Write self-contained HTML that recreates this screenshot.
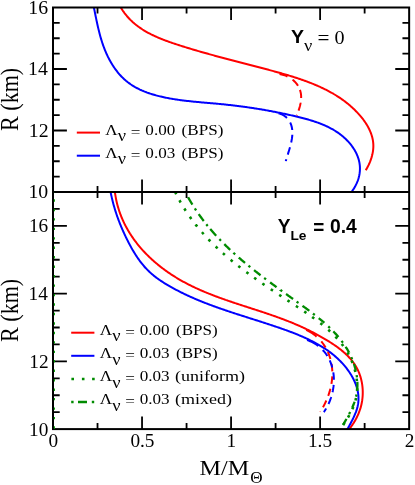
<!DOCTYPE html>
<html><head><meta charset="utf-8"><title>M-R relation</title>
<style>
html,body{margin:0;padding:0;background:#fff;}
body{width:415px;height:485px;overflow:hidden;font-family:"Liberation Serif",serif;}
svg{display:block;will-change:transform;}
text{font-family:"Liberation Serif",serif;fill:#000;}
.sb{font-family:"Liberation Sans",sans-serif;font-weight:bold;}
</style></head><body>
<svg width="415" height="485" viewBox="0 0 415 485">
<rect x="0" y="0" width="415" height="485" fill="#ffffff"/>
<defs><clipPath id="ct"><rect x="53.00" y="7.50" width="356.15" height="184.50"/></clipPath><clipPath id="cb"><rect x="53.00" y="192.00" width="356.15" height="237.10"/></clipPath></defs>
<g clip-path="url(#ct)">
<path d="M119.81 5.72 L120.33 6.65 L120.86 7.57 L121.41 8.48 L121.96 9.37 L122.53 10.25 L123.11 11.11 L123.71 11.95 L124.31 12.79 L124.92 13.60 L125.55 14.41 L126.19 15.20 L126.83 15.98 L127.49 16.74 L128.16 17.49 L128.84 18.23 L129.53 18.95 L130.22 19.67 L130.93 20.37 L131.65 21.05 L132.37 21.73 L133.11 22.39 L133.85 23.05 L134.60 23.69 L135.36 24.32 L136.13 24.93 L136.91 25.54 L137.69 26.14 L138.49 26.72 L139.29 27.30 L140.10 27.87 L140.91 28.42 L141.73 28.97 L142.56 29.51 L143.40 30.03 L144.24 30.55 L145.09 31.06 L145.94 31.56 L146.80 32.05 L147.67 32.53 L148.54 33.01 L149.42 33.48 L150.30 33.93 L151.19 34.39 L152.09 34.83 L152.98 35.27 L153.89 35.70 L154.79 36.12 L155.70 36.53 L156.62 36.94 L157.54 37.35 L158.46 37.74 L159.39 38.13 L160.32 38.52 L161.25 38.90 L162.19 39.27 L163.13 39.64 L164.07 40.00 L165.01 40.36 L165.96 40.71 L166.91 41.06 L167.86 41.41 L168.81 41.75 L169.76 42.09 L170.72 42.42 L171.67 42.75 L172.63 43.08 L173.59 43.40 L174.55 43.72 L175.51 44.04 L176.47 44.36 L177.43 44.67 L178.39 44.98 L179.35 45.29 L180.31 45.60 L181.27 45.90 L182.23 46.20 L183.19 46.51 L184.14 46.81 L185.10 47.10 L186.06 47.40 L187.02 47.69 L187.97 47.99 L188.93 48.28 L189.89 48.57 L190.84 48.86 L191.80 49.15 L192.76 49.43 L193.71 49.72 L194.67 50.00 L195.62 50.28 L196.58 50.56 L197.53 50.84 L198.49 51.12 L199.44 51.40 L200.40 51.67 L201.35 51.94 L202.31 52.22 L203.26 52.49 L204.22 52.76 L205.17 53.03 L206.13 53.30 L207.08 53.57 L208.03 53.83 L208.99 54.10 L209.94 54.36 L210.90 54.63 L211.85 54.89 L212.81 55.15 L213.76 55.41 L214.71 55.67 L215.67 55.93 L216.62 56.19 L217.58 56.45 L218.53 56.71 L219.49 56.96 L220.44 57.22 L221.40 57.48 L222.35 57.73 L223.31 57.98 L224.26 58.24 L225.22 58.49 L226.18 58.75 L227.13 59.00 L228.09 59.25 L229.04 59.50 L230.00 59.75 L230.96 60.00 L231.92 60.25 L232.87 60.51 L233.83 60.76 L234.79 61.01 L235.75 61.26 L236.71 61.50 L237.67 61.75 L238.63 62.00 L239.59 62.25 L240.55 62.50 L241.51 62.75 L242.47 63.00 L243.43 63.25 L244.39 63.50 L245.35 63.75 L246.32 64.00 L247.28 64.25 L248.24 64.50 L249.21 64.75 L250.17 65.00 L251.14 65.25 L252.11 65.50 L253.07 65.75 L254.04 66.00 L255.01 66.26 L255.97 66.51 L256.94 66.76 L257.91 67.02 L258.88 67.27 L259.85 67.52 L260.82 67.78 L261.79 68.03 L262.77 68.29 L263.74 68.55 L264.71 68.80 L265.69 69.06 L266.66 69.32 L267.64 69.58 L268.61 69.84 L269.59 70.10 L270.57 70.36 L271.55 70.63 L272.53 70.89 L273.50 71.16 L274.48 71.42 L275.46 71.69 L276.44 71.96 L277.42 72.23 L278.40 72.50 L279.38 72.78 L280.36 73.05 L281.34 73.33 L282.32 73.61 L283.30 73.89 L284.28 74.17 L285.26 74.45 L286.24 74.74 L287.22 75.03 L288.19 75.32 L289.17 75.61 L290.15 75.91 L291.12 76.21 L292.09 76.51 L293.06 76.81 L294.04 77.12 L295.01 77.43 L295.97 77.74 L296.94 78.05 L297.91 78.37 L298.87 78.69 L299.84 79.02 L300.80 79.35 L301.76 79.68 L302.71 80.01 L303.67 80.35 L304.62 80.69 L305.58 81.04 L306.53 81.39 L307.47 81.74 L308.42 82.10 L309.36 82.46 L310.30 82.82 L311.24 83.19 L312.18 83.56 L313.11 83.94 L314.04 84.32 L314.97 84.71 L315.89 85.10 L316.82 85.50 L317.73 85.90 L318.65 86.30 L319.56 86.71 L320.47 87.13 L321.38 87.55 L322.28 87.97 L323.18 88.40 L324.08 88.84 L324.97 89.28 L325.86 89.72 L326.75 90.17 L327.63 90.63 L328.51 91.09 L329.38 91.56 L330.25 92.04 L331.12 92.52 L331.98 93.00 L332.83 93.49 L333.69 93.99 L334.54 94.50 L335.38 95.01 L336.22 95.52 L337.06 96.05 L337.89 96.57 L338.71 97.11 L339.53 97.65 L340.35 98.20 L341.16 98.76 L341.97 99.32 L342.77 99.89 L343.56 100.47 L344.35 101.05 L345.14 101.64 L345.92 102.24 L346.69 102.85 L347.46 103.46 L348.23 104.08 L348.98 104.71 L349.74 105.35 L350.48 105.99 L351.22 106.64 L351.96 107.30 L352.68 107.97 L353.41 108.64 L354.12 109.33 L354.83 110.02 L355.53 110.72 L356.23 111.43 L356.92 112.14 L357.60 112.87 L358.28 113.60 L358.95 114.34 L359.61 115.09 L360.27 115.85 L360.92 116.62 L361.55 117.40 L362.18 118.18 L362.80 118.97 L363.40 119.77 L364.00 120.58 L364.58 121.40 L365.15 122.22 L365.70 123.05 L366.24 123.89 L366.77 124.74 L367.28 125.59 L367.78 126.45 L368.25 127.32 L368.71 128.20 L369.16 129.08 L369.58 129.97 L369.99 130.86 L370.37 131.77 L370.74 132.68 L371.08 133.59 L371.40 134.51 L371.70 135.44 L371.98 136.38 L372.23 137.32 L372.46 138.26 L372.67 139.22 L372.85 140.17 L373.00 141.14 L373.13 142.11 L373.23 143.08 L373.30 144.06 L373.34 145.05 L373.35 146.04 L373.34 147.04 L373.29 148.04 L373.21 149.04 L373.11 150.05 L372.98 151.06 L372.82 152.08 L372.63 153.09 L372.42 154.10 L372.19 155.11 L371.93 156.12 L371.64 157.12 L371.34 158.13 L371.01 159.12 L370.66 160.11 L370.29 161.10 L369.91 162.07 L369.50 163.04 L369.08 164.00 L368.64 164.95 L368.18 165.88 L367.70 166.81 L367.22 167.72 L366.72 168.62 L366.20 169.50 L365.75 170.24" fill="none" stroke="#ff0000" stroke-width="2.00" stroke-linecap="butt" stroke-linejoin="round"/>
<path d="M93.59 6.10 L93.79 7.05 L93.99 8.01 L94.18 8.96 L94.38 9.92 L94.57 10.88 L94.77 11.84 L94.96 12.81 L95.16 13.78 L95.35 14.74 L95.55 15.71 L95.75 16.68 L95.95 17.66 L96.15 18.63 L96.35 19.60 L96.55 20.58 L96.76 21.55 L96.97 22.53 L97.18 23.50 L97.40 24.48 L97.62 25.46 L97.84 26.43 L98.06 27.41 L98.29 28.39 L98.52 29.36 L98.76 30.34 L99.00 31.32 L99.25 32.29 L99.50 33.26 L99.76 34.24 L100.02 35.21 L100.29 36.18 L100.56 37.15 L100.84 38.12 L101.13 39.09 L101.42 40.05 L101.72 41.01 L102.03 41.98 L102.34 42.94 L102.66 43.89 L102.99 44.85 L103.33 45.80 L103.67 46.75 L104.02 47.70 L104.39 48.64 L104.76 49.59 L105.14 50.53 L105.52 51.46 L105.92 52.39 L106.33 53.32 L106.75 54.25 L107.17 55.17 L107.61 56.09 L108.05 57.00 L108.51 57.90 L108.97 58.80 L109.44 59.70 L109.93 60.59 L110.42 61.47 L110.92 62.35 L111.43 63.22 L111.95 64.08 L112.49 64.94 L113.03 65.78 L113.58 66.62 L114.14 67.46 L114.71 68.28 L115.29 69.09 L115.88 69.90 L116.48 70.70 L117.08 71.48 L117.70 72.26 L118.33 73.03 L118.97 73.78 L119.62 74.53 L120.28 75.26 L120.95 75.98 L121.63 76.70 L122.32 77.40 L123.02 78.08 L123.73 78.76 L124.45 79.42 L125.18 80.07 L125.92 80.71 L126.67 81.33 L127.43 81.94 L128.21 82.53 L128.99 83.11 L129.78 83.68 L130.58 84.24 L131.39 84.78 L132.20 85.32 L133.03 85.83 L133.87 86.34 L134.71 86.84 L135.56 87.32 L136.42 87.79 L137.29 88.25 L138.16 88.70 L139.05 89.14 L139.93 89.57 L140.83 89.98 L141.73 90.39 L142.64 90.78 L143.56 91.17 L144.48 91.55 L145.40 91.91 L146.34 92.27 L147.27 92.62 L148.22 92.95 L149.16 93.28 L150.12 93.60 L151.07 93.91 L152.03 94.22 L153.00 94.51 L153.97 94.80 L154.94 95.08 L155.92 95.35 L156.89 95.61 L157.88 95.87 L158.86 96.12 L159.85 96.36 L160.84 96.59 L161.83 96.82 L162.82 97.04 L163.82 97.26 L164.82 97.47 L165.81 97.67 L166.81 97.87 L167.81 98.07 L168.82 98.25 L169.82 98.43 L170.82 98.61 L171.82 98.78 L172.82 98.95 L173.82 99.12 L174.82 99.27 L175.82 99.43 L176.82 99.58 L177.82 99.73 L178.83 99.87 L179.83 100.01 L180.83 100.14 L181.82 100.28 L182.82 100.40 L183.82 100.53 L184.82 100.65 L185.82 100.77 L186.82 100.89 L187.82 101.00 L188.82 101.11 L189.81 101.22 L190.81 101.33 L191.81 101.43 L192.80 101.53 L193.80 101.63 L194.80 101.73 L195.79 101.83 L196.79 101.92 L197.79 102.02 L198.78 102.11 L199.78 102.20 L200.77 102.29 L201.76 102.38 L202.76 102.47 L203.75 102.56 L204.75 102.64 L205.74 102.73 L206.73 102.82 L207.72 102.90 L208.72 102.99 L209.71 103.08 L210.70 103.16 L211.69 103.25 L212.68 103.34 L213.67 103.42 L214.66 103.51 L215.65 103.60 L216.64 103.69 L217.63 103.78 L218.62 103.88 L219.61 103.97 L220.59 104.07 L221.58 104.16 L222.57 104.26 L223.55 104.36 L224.54 104.46 L225.53 104.57 L226.51 104.67 L227.50 104.78 L228.48 104.89 L229.47 104.99 L230.45 105.10 L231.44 105.22 L232.42 105.33 L233.40 105.45 L234.39 105.56 L235.37 105.68 L236.35 105.80 L237.33 105.92 L238.32 106.05 L239.30 106.17 L240.28 106.30 L241.26 106.43 L242.25 106.56 L243.23 106.69 L244.21 106.82 L245.19 106.96 L246.17 107.10 L247.15 107.23 L248.13 107.37 L249.12 107.52 L250.10 107.66 L251.08 107.80 L252.06 107.95 L253.04 108.10 L254.02 108.25 L255.00 108.40 L255.98 108.56 L256.96 108.71 L257.94 108.87 L258.93 109.03 L259.91 109.19 L260.89 109.36 L261.87 109.52 L262.85 109.69 L263.83 109.86 L264.81 110.03 L265.80 110.20 L266.78 110.37 L267.76 110.55 L268.74 110.73 L269.72 110.91 L270.71 111.09 L271.69 111.27 L272.67 111.46 L273.65 111.65 L274.64 111.84 L275.62 112.03 L276.60 112.22 L277.59 112.42 L278.57 112.61 L279.56 112.81 L280.54 113.01 L281.53 113.22 L282.51 113.42 L283.50 113.63 L284.48 113.84 L285.47 114.05 L286.46 114.26 L287.44 114.48 L288.43 114.70 L289.42 114.92 L290.41 115.14 L291.40 115.36 L292.38 115.59 L293.37 115.82 L294.36 116.05 L295.35 116.28 L296.34 116.51 L297.34 116.75 L298.33 116.99 L299.32 117.23 L300.31 117.48 L301.30 117.73 L302.29 117.98 L303.27 118.23 L304.26 118.49 L305.25 118.76 L306.23 119.03 L307.21 119.30 L308.19 119.58 L309.17 119.86 L310.15 120.15 L311.12 120.44 L312.09 120.74 L313.06 121.05 L314.03 121.36 L314.99 121.68 L315.95 122.00 L316.90 122.34 L317.86 122.68 L318.80 123.02 L319.75 123.38 L320.69 123.74 L321.62 124.11 L322.55 124.48 L323.48 124.87 L324.40 125.27 L325.32 125.67 L326.23 126.08 L327.13 126.50 L328.03 126.93 L328.92 127.38 L329.81 127.83 L330.69 128.29 L331.56 128.76 L332.43 129.24 L333.29 129.73 L334.15 130.24 L334.99 130.75 L335.83 131.28 L336.66 131.82 L337.49 132.37 L338.30 132.93 L339.11 133.51 L339.91 134.09 L340.70 134.69 L341.48 135.31 L342.25 135.93 L343.02 136.57 L343.77 137.23 L344.51 137.89 L345.25 138.57 L345.97 139.26 L346.68 139.96 L347.38 140.68 L348.06 141.41 L348.73 142.14 L349.39 142.89 L350.03 143.65 L350.66 144.42 L351.27 145.20 L351.87 145.99 L352.45 146.80 L353.01 147.61 L353.55 148.43 L354.08 149.26 L354.59 150.09 L355.07 150.94 L355.54 151.80 L355.99 152.66 L356.42 153.53 L356.82 154.41 L357.20 155.30 L357.56 156.19 L357.90 157.10 L358.21 158.00 L358.50 158.92 L358.77 159.84 L359.01 160.77 L359.22 161.70 L359.41 162.64 L359.57 163.58 L359.70 164.53 L359.81 165.49 L359.88 166.44 L359.93 167.41 L359.95 168.37 L359.94 169.34 L359.90 170.32 L359.84 171.29 L359.74 172.27 L359.62 173.24 L359.46 174.22 L359.28 175.20 L359.07 176.18 L358.84 177.16 L358.57 178.13 L358.28 179.10 L357.96 180.08 L357.61 181.04 L357.23 182.01 L356.83 182.97 L356.40 183.92 L355.94 184.87 L355.46 185.82 L354.94 186.75 L354.40 187.68 L353.84 188.61 L353.24 189.52 L352.62 190.43 L351.98 191.33 L351.30 192.22 L350.60 193.10 L349.88 193.96 L349.77 194.08" fill="none" stroke="#0000ff" stroke-width="2.00" stroke-linecap="butt" stroke-linejoin="round"/>
<path d="M279.54 74.09 L280.59 74.26 L281.63 74.46 L282.65 74.71 L283.65 74.99 L284.64 75.31 L285.61 75.66 L286.56 76.05 L287.49 76.47 L288.40 76.93 L289.29 77.42 L290.15 77.93 L290.99 78.49 L291.81 79.07 L292.59 79.67 L293.35 80.31 L294.08 80.98 L294.78 81.67 L295.45 82.38 L296.09 83.12 L296.70 83.88 L297.27 84.67 L297.81 85.48 L298.31 86.31 L298.77 87.15 L299.20 88.02 L299.58 88.91 L299.93 89.81 L300.23 90.73 L300.49 91.67 L300.71 92.61 L300.89 93.58 L301.02 94.55 L301.10 95.54 L301.14 96.54 L301.15 97.55 L301.11 98.56 L301.04 99.57 L300.94 100.59 L300.80 101.62 L300.64 102.64 L300.45 103.66 L300.23 104.67 L300.00 105.68 L299.74 106.69 L299.46 107.68 L299.17 108.67 L298.87 109.64 L298.55 110.60 L298.22 111.54 L297.89 112.47 L297.55 113.38 L297.21 114.27 L296.87 115.13 L296.80 115.32" fill="none" stroke="#ff0000" stroke-width="2.00" stroke-linecap="butt" stroke-linejoin="round" stroke-dasharray="8.33 6.01 8.30 4.50 8.30 4.50 8.30 4.50 8.30 4.50 8.30 4.50 8.30 4.50 8.30 4.50 8.30 4.50 8.30 4.50 8.30 4.50 8.30 4.50 8.30 4.50"/>
<path d="M278.52 113.22 L279.68 113.58 L280.77 113.98 L281.81 114.42 L282.80 114.90 L283.72 115.43 L284.60 115.99 L285.42 116.59 L286.19 117.23 L286.91 117.90 L287.58 118.60 L288.20 119.34 L288.77 120.10 L289.29 120.89 L289.77 121.70 L290.21 122.54 L290.60 123.40 L290.95 124.28 L291.26 125.18 L291.53 126.10 L291.76 127.03 L291.95 127.98 L292.10 128.94 L292.22 129.91 L292.30 130.89 L292.35 131.87 L292.37 132.87 L292.35 133.86 L292.31 134.86 L292.24 135.87 L292.14 136.88 L292.01 137.89 L291.87 138.90 L291.70 139.92 L291.51 140.93 L291.30 141.95 L291.08 142.96 L290.84 143.97 L290.59 144.98 L290.33 145.98 L290.05 146.98 L289.77 147.98 L289.48 148.97 L289.19 149.96 L288.89 150.94 L288.59 151.91 L288.29 152.87 L287.99 153.83 L287.69 154.77 L287.39 155.71 L287.11 156.64 L286.83 157.55 L286.56 158.45 L286.30 159.34 L286.05 160.21 L285.81 161.08 L285.80 161.15" fill="none" stroke="#0000ff" stroke-width="2.00" stroke-linecap="butt" stroke-linejoin="round" stroke-dasharray="9.71 5.70 7.80 4.80 7.80 4.80 7.80 4.80 7.80 4.80 7.80 4.80 7.80 4.80 7.80 4.80 7.80 4.80 7.80 4.80 7.80 4.80 7.80 4.80 7.80 4.80"/>
</g>
<g clip-path="url(#cb)">
<path d="M114.68 190.23 L114.80 191.27 L114.93 192.31 L115.07 193.34 L115.22 194.37 L115.38 195.40 L115.56 196.42 L115.74 197.44 L115.93 198.45 L116.13 199.46 L116.34 200.46 L116.56 201.46 L116.80 202.46 L117.04 203.45 L117.29 204.43 L117.55 205.41 L117.82 206.39 L118.10 207.36 L118.39 208.33 L118.68 209.29 L118.99 210.25 L119.31 211.20 L119.63 212.15 L119.97 213.10 L120.31 214.04 L120.66 214.97 L121.02 215.91 L121.39 216.83 L121.77 217.75 L122.16 218.67 L122.56 219.58 L122.96 220.49 L123.37 221.40 L123.80 222.29 L124.22 223.19 L124.66 224.08 L125.11 224.96 L125.56 225.84 L126.02 226.72 L126.49 227.59 L126.97 228.46 L127.46 229.32 L127.95 230.18 L128.45 231.03 L128.96 231.88 L129.47 232.72 L129.99 233.56 L130.53 234.39 L131.06 235.22 L131.61 236.05 L132.16 236.87 L132.72 237.68 L133.28 238.49 L133.86 239.30 L134.44 240.10 L135.02 240.90 L135.62 241.69 L136.22 242.47 L136.82 243.26 L137.43 244.03 L138.05 244.81 L138.68 245.57 L139.31 246.34 L139.95 247.09 L140.59 247.85 L141.24 248.60 L141.90 249.34 L142.56 250.08 L143.23 250.81 L143.90 251.54 L144.58 252.27 L145.27 252.99 L145.96 253.70 L146.66 254.41 L147.36 255.12 L148.06 255.82 L148.78 256.51 L149.49 257.20 L150.22 257.89 L150.94 258.57 L151.68 259.25 L152.41 259.92 L153.16 260.59 L153.90 261.25 L154.66 261.90 L155.41 262.56 L156.17 263.20 L156.94 263.84 L157.71 264.48 L158.48 265.11 L159.26 265.74 L160.05 266.36 L160.83 266.98 L161.63 267.59 L162.42 268.20 L163.22 268.80 L164.02 269.40 L164.83 269.99 L165.64 270.58 L166.46 271.16 L167.27 271.74 L168.09 272.31 L168.92 272.88 L169.75 273.44 L170.58 274.00 L171.41 274.55 L172.25 275.10 L173.09 275.64 L173.94 276.18 L174.78 276.71 L175.63 277.24 L176.49 277.76 L177.34 278.28 L178.20 278.79 L179.06 279.30 L179.92 279.80 L180.79 280.30 L181.66 280.79 L182.53 281.28 L183.40 281.76 L184.28 282.24 L185.16 282.71 L186.03 283.18 L186.92 283.64 L187.80 284.10 L188.69 284.55 L189.58 285.00 L190.47 285.45 L191.36 285.89 L192.25 286.33 L193.15 286.76 L194.05 287.19 L194.95 287.62 L195.85 288.04 L196.76 288.45 L197.66 288.87 L198.57 289.28 L199.48 289.68 L200.39 290.09 L201.31 290.49 L202.22 290.88 L203.14 291.27 L204.05 291.66 L204.97 292.05 L205.90 292.43 L206.82 292.81 L207.74 293.19 L208.67 293.56 L209.59 293.93 L210.52 294.30 L211.45 294.66 L212.38 295.02 L213.31 295.38 L214.25 295.74 L215.18 296.09 L216.12 296.45 L217.06 296.80 L217.99 297.14 L218.93 297.49 L219.87 297.83 L220.81 298.17 L221.76 298.51 L222.70 298.85 L223.64 299.18 L224.59 299.51 L225.53 299.85 L226.48 300.17 L227.43 300.50 L228.37 300.83 L229.32 301.15 L230.27 301.48 L231.22 301.80 L232.17 302.12 L233.12 302.44 L234.07 302.76 L235.03 303.08 L235.98 303.39 L236.93 303.71 L237.88 304.02 L238.84 304.33 L239.79 304.65 L240.75 304.96 L241.70 305.27 L242.66 305.58 L243.61 305.89 L244.57 306.20 L245.52 306.51 L246.48 306.82 L247.43 307.13 L248.39 307.44 L249.34 307.75 L250.30 308.06 L251.25 308.37 L252.21 308.68 L253.16 308.99 L254.12 309.30 L255.07 309.61 L256.03 309.92 L256.98 310.23 L257.94 310.54 L258.89 310.85 L259.84 311.16 L260.80 311.48 L261.75 311.79 L262.70 312.11 L263.65 312.42 L264.60 312.74 L265.55 313.06 L266.50 313.38 L267.45 313.70 L268.40 314.02 L269.35 314.34 L270.30 314.67 L271.24 314.99 L272.19 315.32 L273.13 315.65 L274.08 315.98 L275.02 316.31 L275.96 316.65 L276.90 316.98 L277.84 317.32 L278.78 317.66 L279.72 318.00 L280.66 318.35 L281.59 318.70 L282.53 319.04 L283.46 319.40 L284.39 319.75 L285.32 320.11 L286.25 320.47 L287.18 320.83 L288.11 321.19 L289.03 321.56 L289.96 321.93 L290.88 322.30 L291.80 322.68 L292.72 323.05 L293.64 323.44 L294.56 323.82 L295.47 324.21 L296.38 324.60 L297.30 324.99 L298.21 325.39 L299.12 325.79 L300.03 326.20 L300.93 326.60 L301.84 327.01 L302.74 327.43 L303.64 327.85 L304.55 328.27 L305.45 328.69 L306.34 329.12 L307.24 329.55 L308.14 329.99 L309.03 330.43 L309.93 330.87 L310.82 331.32 L311.71 331.77 L312.60 332.23 L313.49 332.69 L314.37 333.15 L315.26 333.62 L316.14 334.09 L317.02 334.57 L317.91 335.04 L318.79 335.53 L319.67 336.02 L320.54 336.51 L321.42 337.01 L322.30 337.51 L323.17 338.01 L324.04 338.52 L324.91 339.04 L325.78 339.56 L326.65 340.08 L327.52 340.61 L328.39 341.15 L329.25 341.68 L330.12 342.23 L330.97 342.78 L331.83 343.33 L332.68 343.89 L333.53 344.46 L334.38 345.03 L335.21 345.61 L336.05 346.19 L336.88 346.78 L337.70 347.38 L338.51 347.98 L339.32 348.59 L340.12 349.21 L340.91 349.84 L341.70 350.47 L342.48 351.11 L343.24 351.76 L344.00 352.42 L344.75 353.08 L345.48 353.75 L346.21 354.43 L346.92 355.12 L347.63 355.82 L348.32 356.53 L349.00 357.24 L349.66 357.97 L350.32 358.70 L350.96 359.44 L351.58 360.20 L352.19 360.96 L352.79 361.73 L353.37 362.52 L353.93 363.31 L354.48 364.12 L355.01 364.93 L355.52 365.76 L356.02 366.59 L356.50 367.44 L356.96 368.30 L357.41 369.17 L357.83 370.04 L358.24 370.93 L358.63 371.82 L359.01 372.73 L359.37 373.64 L359.70 374.56 L360.03 375.48 L360.33 376.42 L360.61 377.36 L360.88 378.30 L361.13 379.26 L361.36 380.21 L361.58 381.18 L361.78 382.14 L361.95 383.12 L362.12 384.09 L362.26 385.07 L362.38 386.06 L362.49 387.05 L362.58 388.04 L362.65 389.03 L362.70 390.02 L362.74 391.02 L362.75 392.02 L362.75 393.01 L362.73 394.01 L362.70 395.01 L362.64 396.01 L362.57 397.01 L362.47 398.01 L362.36 399.01 L362.23 400.00 L362.09 401.00 L361.92 401.99 L361.73 402.98 L361.53 403.96 L361.31 404.95 L361.07 405.93 L360.81 406.90 L360.54 407.87 L360.24 408.84 L359.93 409.80 L359.60 410.76 L359.25 411.71 L358.89 412.66 L358.51 413.60 L358.11 414.53 L357.70 415.46 L357.27 416.38 L356.82 417.30 L356.36 418.20 L355.89 419.10 L355.40 419.99 L354.89 420.88 L354.37 421.75 L353.84 422.62 L353.29 423.47 L352.74 424.32 L352.16 425.16 L351.58 425.99 L350.98 426.81 L350.37 427.62 L349.75 428.41 L349.11 429.20 L348.47 429.98 L348.24 430.25" fill="none" stroke="#ff0000" stroke-width="2.00" stroke-linecap="butt" stroke-linejoin="round"/>
<path d="M110.32 190.48 L110.50 191.47 L110.69 192.46 L110.89 193.45 L111.09 194.44 L111.30 195.42 L111.52 196.40 L111.74 197.39 L111.96 198.36 L112.19 199.34 L112.43 200.31 L112.67 201.28 L112.92 202.25 L113.18 203.22 L113.44 204.19 L113.70 205.15 L113.97 206.11 L114.25 207.07 L114.53 208.03 L114.81 208.98 L115.11 209.94 L115.40 210.89 L115.70 211.84 L116.01 212.79 L116.33 213.73 L116.64 214.68 L116.97 215.62 L117.29 216.56 L117.63 217.50 L117.97 218.43 L118.31 219.37 L118.66 220.30 L119.01 221.23 L119.37 222.16 L119.73 223.09 L120.10 224.02 L120.47 224.94 L120.85 225.86 L121.23 226.78 L121.62 227.70 L122.01 228.62 L122.41 229.54 L122.81 230.45 L123.21 231.36 L123.62 232.27 L124.04 233.18 L124.46 234.09 L124.88 235.00 L125.31 235.90 L125.74 236.81 L126.18 237.71 L126.62 238.61 L127.06 239.51 L127.51 240.40 L127.97 241.30 L128.43 242.19 L128.89 243.09 L129.36 243.98 L129.83 244.87 L130.30 245.75 L130.79 246.63 L131.27 247.52 L131.77 248.39 L132.26 249.27 L132.77 250.14 L133.28 251.01 L133.79 251.87 L134.32 252.73 L134.84 253.58 L135.38 254.43 L135.92 255.28 L136.47 256.12 L137.02 256.95 L137.58 257.78 L138.15 258.61 L138.73 259.42 L139.32 260.23 L139.91 261.04 L140.51 261.84 L141.11 262.63 L141.73 263.42 L142.36 264.19 L142.99 264.96 L143.63 265.73 L144.28 266.48 L144.94 267.23 L145.61 267.96 L146.29 268.69 L146.97 269.41 L147.67 270.13 L148.38 270.83 L149.09 271.52 L149.82 272.21 L150.56 272.88 L151.30 273.54 L152.06 274.20 L152.82 274.84 L153.59 275.48 L154.37 276.11 L155.16 276.73 L155.96 277.34 L156.76 277.94 L157.58 278.54 L158.39 279.13 L159.22 279.71 L160.05 280.28 L160.88 280.84 L161.73 281.40 L162.57 281.95 L163.42 282.50 L164.28 283.04 L165.14 283.57 L166.00 284.10 L166.87 284.62 L167.74 285.13 L168.61 285.64 L169.49 286.15 L170.36 286.65 L171.24 287.14 L172.12 287.63 L173.00 288.12 L173.89 288.60 L174.77 289.08 L175.65 289.55 L176.54 290.02 L177.43 290.48 L178.32 290.94 L179.21 291.40 L180.10 291.85 L180.99 292.30 L181.88 292.74 L182.78 293.18 L183.68 293.61 L184.57 294.05 L185.47 294.48 L186.37 294.90 L187.27 295.32 L188.17 295.74 L189.07 296.15 L189.98 296.56 L190.88 296.97 L191.79 297.37 L192.70 297.78 L193.60 298.17 L194.51 298.57 L195.42 298.96 L196.33 299.35 L197.25 299.73 L198.16 300.11 L199.07 300.49 L199.99 300.87 L200.90 301.24 L201.82 301.61 L202.74 301.98 L203.66 302.34 L204.58 302.71 L205.50 303.07 L206.42 303.42 L207.34 303.78 L208.27 304.13 L209.19 304.48 L210.11 304.83 L211.04 305.18 L211.97 305.52 L212.89 305.86 L213.82 306.20 L214.75 306.54 L215.68 306.88 L216.61 307.21 L217.54 307.54 L218.48 307.87 L219.41 308.20 L220.34 308.53 L221.28 308.85 L222.21 309.18 L223.15 309.50 L224.09 309.82 L225.02 310.14 L225.96 310.46 L226.90 310.77 L227.84 311.09 L228.78 311.40 L229.72 311.72 L230.66 312.03 L231.60 312.34 L232.55 312.65 L233.49 312.96 L234.43 313.27 L235.38 313.58 L236.32 313.88 L237.27 314.19 L238.21 314.49 L239.16 314.80 L240.11 315.10 L241.06 315.41 L242.00 315.71 L242.95 316.01 L243.90 316.32 L244.85 316.62 L245.80 316.92 L246.75 317.23 L247.70 317.53 L248.66 317.83 L249.61 318.13 L250.56 318.44 L251.51 318.74 L252.47 319.04 L253.42 319.34 L254.37 319.65 L255.33 319.95 L256.28 320.25 L257.24 320.56 L258.19 320.86 L259.15 321.17 L260.10 321.48 L261.06 321.78 L262.02 322.09 L262.97 322.40 L263.93 322.71 L264.89 323.02 L265.85 323.33 L266.81 323.64 L267.76 323.96 L268.72 324.27 L269.68 324.59 L270.64 324.90 L271.60 325.22 L272.56 325.54 L273.52 325.86 L274.48 326.18 L275.44 326.51 L276.40 326.83 L277.36 327.16 L278.32 327.49 L279.28 327.82 L280.24 328.15 L281.20 328.48 L282.16 328.82 L283.12 329.16 L284.08 329.50 L285.04 329.84 L286.00 330.18 L286.95 330.53 L287.91 330.88 L288.87 331.24 L289.82 331.59 L290.77 331.95 L291.73 332.31 L292.68 332.68 L293.62 333.04 L294.57 333.41 L295.52 333.79 L296.46 334.17 L297.40 334.55 L298.34 334.93 L299.28 335.32 L300.22 335.71 L301.15 336.11 L302.08 336.51 L303.01 336.92 L303.93 337.33 L304.85 337.74 L305.77 338.16 L306.69 338.58 L307.60 339.01 L308.51 339.44 L309.42 339.88 L310.32 340.32 L311.22 340.77 L312.11 341.22 L313.00 341.68 L313.89 342.14 L314.77 342.61 L315.65 343.08 L316.53 343.56 L317.40 344.04 L318.26 344.54 L319.12 345.03 L319.98 345.53 L320.83 346.04 L321.68 346.56 L322.52 347.08 L323.36 347.61 L324.19 348.14 L325.01 348.68 L325.83 349.23 L326.65 349.79 L327.46 350.35 L328.26 350.92 L329.05 351.49 L329.85 352.08 L330.63 352.67 L331.41 353.26 L332.18 353.87 L332.94 354.48 L333.70 355.10 L334.46 355.73 L335.20 356.37 L335.94 357.01 L336.67 357.66 L337.39 358.32 L338.11 358.99 L338.82 359.67 L339.52 360.35 L340.21 361.05 L340.90 361.75 L341.58 362.46 L342.25 363.18 L342.91 363.91 L343.56 364.65 L344.21 365.40 L344.85 366.16 L345.48 366.92 L346.10 367.70 L346.71 368.48 L347.31 369.28 L347.90 370.08 L348.48 370.90 L349.05 371.72 L349.61 372.55 L350.16 373.39 L350.70 374.23 L351.22 375.09 L351.73 375.95 L352.22 376.82 L352.70 377.69 L353.17 378.58 L353.62 379.47 L354.05 380.36 L354.47 381.26 L354.87 382.17 L355.25 383.09 L355.61 384.01 L355.96 384.93 L356.28 385.86 L356.59 386.80 L356.87 387.74 L357.13 388.68 L357.37 389.63 L357.59 390.58 L357.79 391.53 L357.96 392.49 L358.11 393.46 L358.24 394.42 L358.34 395.39 L358.42 396.36 L358.47 397.33 L358.49 398.31 L358.48 399.28 L358.45 400.26 L358.39 401.24 L358.30 402.22 L358.19 403.21 L358.04 404.19 L357.86 405.17 L357.66 406.16 L357.42 407.14 L357.16 408.12 L356.88 409.10 L356.57 410.08 L356.24 411.06 L355.89 412.04 L355.51 413.01 L355.12 413.98 L354.72 414.95 L354.30 415.91 L353.86 416.87 L353.42 417.82 L352.96 418.77 L352.49 419.71 L352.02 420.65 L351.54 421.58 L351.05 422.50 L350.56 423.42 L350.07 424.32 L349.58 425.22 L349.09 426.12 L348.60 427.00 L348.11 427.87 L347.63 428.74 L347.15 429.59 L346.69 430.43 L346.68 430.45" fill="none" stroke="#0000ff" stroke-width="2.00" stroke-linecap="butt" stroke-linejoin="round"/>
<path d="M175.39 192.55 L175.39 192.55 L175.86 193.50 L176.23 194.24M179.42 200.25 L179.80 200.94 L180.31 201.84 L180.70 202.51M184.31 208.53 L184.56 208.93 L185.11 209.79 L185.66 210.65 L185.71 210.72M189.84 216.82 L190.23 217.37 L190.82 218.19 L191.36 218.93M195.56 224.48 L195.65 224.60 L196.27 225.38 L196.90 226.16 L197.19 226.52M201.96 232.20 L202.01 232.26 L202.67 233.00 L203.33 233.75 L203.68 234.14M208.55 239.41 L208.70 239.56 L209.38 240.27 L210.07 240.98 L210.36 241.27M215.70 246.55 L216.39 247.21 L217.11 247.89 L217.59 248.34M222.88 253.17 L222.93 253.21 L223.67 253.87 L224.41 254.52 L224.83 254.88M230.67 259.84 L231.19 260.27 L231.95 260.89 L232.68 261.49M238.30 265.97 L238.92 266.45 L239.70 267.06 L240.36 267.56M246.36 272.09 L246.84 272.44 L247.64 273.04 L248.44 273.62 L248.45 273.63M254.14 277.74 L254.92 278.29 L255.73 278.87 L256.27 279.25M262.37 283.50 L263.13 284.02 L263.95 284.59 L264.51 284.97M270.78 289.23 L271.44 289.67 L272.28 290.23 L272.94 290.68M279.20 294.85 L279.84 295.27 L280.68 295.83 L281.37 296.29M287.46 300.32 L288.28 300.86 L289.13 301.42 L289.63 301.75M295.92 305.92 L296.76 306.48 L297.60 307.04 L298.09 307.36M304.24 311.50 L304.37 311.58 L305.21 312.16 L306.05 312.73 L306.38 312.96M312.13 316.99 L312.69 317.40 L313.51 317.99 L314.23 318.51M320.35 323.14 L320.75 323.45 L321.53 324.07 L322.31 324.70 L322.38 324.76M328.23 329.72 L328.37 329.84 L329.10 330.51 L329.83 331.17 L330.15 331.47M335.40 336.66 L335.42 336.68 L336.09 337.39 L336.75 338.10 L337.17 338.57M341.71 343.99 L341.75 344.05 L342.34 344.82 L342.92 345.59 L343.27 346.07M347.41 352.38 L347.71 352.89 L348.19 353.73 L348.67 354.59 L348.70 354.64M351.57 360.57 L351.67 360.79 L352.05 361.70 L352.42 362.63 L352.55 362.98M354.72 369.49 L354.94 370.29 L355.19 371.27 L355.37 372.00M356.61 378.56 L356.71 379.28 L356.83 380.29 L356.91 381.14M357.19 388.21 L357.18 388.40 L357.15 389.42 L357.10 390.42 L357.07 390.81M356.10 397.93 L356.01 398.38 L355.78 399.36 L355.53 400.33 L355.50 400.46M353.33 406.90 L353.30 406.97 L352.91 407.89 L352.51 408.81 L352.30 409.29M349.28 415.23 L348.85 415.99 L348.35 416.86 L347.98 417.48M344.60 422.84 L344.06 423.64 L343.51 424.47 L343.15 424.99" fill="none" stroke="#008b00" stroke-width="2.60"/>
<path d="M188.06 197.22 L188.08 197.26 L188.59 198.16 L189.11 199.06 L189.62 199.96 L190.15 200.85 L190.67 201.74 L191.20 202.62 L191.73 203.50 L192.27 204.37 L192.39 204.57M198.70 214.11 L199.00 214.53 L199.59 215.35 L200.17 216.17 L200.77 216.98 L201.36 217.79 L201.96 218.60 L202.56 219.40 L203.17 220.20 L203.77 220.99 L203.80 221.02M210.21 228.95 L210.68 229.50 L211.33 230.25 L211.98 231.00 L212.63 231.75 L213.28 232.49 L213.94 233.23 L214.60 233.97 L215.27 234.71 L215.93 235.44 L216.20 235.73M224.28 244.12 L224.85 244.68 L225.56 245.37 L226.26 246.06 L226.97 246.75 L227.69 247.43 L228.40 248.12 L229.12 248.80 L229.83 249.47 L230.24 249.85M238.75 257.53 L239.38 258.07 L240.13 258.72 L240.88 259.37 L241.63 260.01 L242.39 260.65 L243.15 261.29 L243.90 261.93 L244.66 262.56 L245.03 262.87M254.04 270.17 L254.70 270.69 L255.49 271.31 L256.27 271.92 L257.06 272.53 L257.85 273.14 L258.64 273.75 L259.43 274.36 L260.22 274.97 L260.57 275.24M270.12 282.41 L270.62 282.79 L271.43 283.39 L272.24 283.98 L273.05 284.58 L273.86 285.17 L274.67 285.76 L275.48 286.36 L276.30 286.95 L276.58 287.16M286.04 293.99 L286.11 294.04 L286.93 294.63 L287.75 295.22 L288.57 295.81 L289.40 296.40 L290.22 296.99 L291.04 297.58 L291.87 298.17 L292.69 298.76 L293.06 299.03M302.48 305.79 L302.59 305.88 L303.42 306.48 L304.24 307.07 L305.06 307.67 L305.88 308.27 L306.70 308.88 L307.52 309.48 L308.33 310.08 L309.15 310.69 L309.23 310.76M318.78 318.16 L319.52 318.77 L320.29 319.40 L321.06 320.05 L321.83 320.69 L322.59 321.34 L323.35 321.99 L324.11 322.64 L324.27 322.79M333.34 331.37 L333.46 331.49 L334.14 332.21 L334.81 332.92 L335.47 333.64 L336.13 334.37 L336.78 335.10 L337.43 335.83 L338.06 336.57 L338.44 337.01M345.66 346.76 L346.14 347.52 L346.65 348.35 L347.16 349.18 L347.65 350.03 L348.13 350.87 L348.60 351.73 L349.07 352.59 L349.07 352.60M353.93 363.96 L354.09 364.45 L354.39 365.41 L354.68 366.37 L354.96 367.34 L355.22 368.31 L355.47 369.29 L355.71 370.27 L355.80 370.67M357.35 381.91 L357.37 382.23 L357.40 383.23 L357.41 384.24 L357.41 385.24 L357.39 386.24 L357.35 387.24 L357.30 388.24 L357.22 389.24 L357.13 390.24 L357.12 390.29M354.55 401.75 L354.49 401.93 L354.16 402.88 L353.81 403.82 L353.44 404.76 L353.06 405.70 L352.67 406.63 L352.27 407.56 L352.13 407.86M346.49 418.86 L346.28 419.25 L345.78 420.12 L345.29 420.98 L344.79 421.84 L344.30 422.70 L343.80 423.55 L343.31 424.40 L343.00 424.94M184.63 190.80 L184.63 190.80 L185.11 191.73 L185.60 192.67 L185.67 192.80M194.86 208.44 L195.01 208.68 L195.57 209.52 L196.13 210.36M206.32 224.23 L206.87 224.91 L207.49 225.69 L207.77 226.02M219.37 239.11 L219.99 239.76 L220.68 240.47 L220.97 240.77M233.45 252.81 L233.46 252.82 L234.20 253.49 L234.93 254.15 L235.15 254.35M248.47 265.70 L248.49 265.72 L249.26 266.35 L250.04 266.97 L250.26 267.15M264.16 277.97 L264.20 278.00 L265.00 278.60 L265.80 279.20 L266.00 279.35M280.37 289.90 L280.37 289.91 L281.19 290.50 L282.01 291.09 L282.23 291.25M296.63 301.58 L296.82 301.72 L297.64 302.31 L298.47 302.90 L298.50 302.92M312.97 313.59 L313.19 313.75 L313.99 314.37 L314.79 314.99 L314.79 314.99M328.27 326.40 L328.54 326.64 L329.26 327.33 L329.94 327.98M341.54 340.88 L341.73 341.12 L342.31 341.90 L342.88 342.69 L342.91 342.73M351.26 357.09 L351.62 357.91 L352.01 358.83 L352.16 359.21M356.65 375.11 L356.67 375.22 L356.82 376.21 L356.95 377.21 L356.97 377.39M356.50 394.52 L356.37 395.18 L356.16 396.15 L356.01 396.77M350.13 412.08 L350.10 412.14 L349.64 413.04 L349.18 413.94 L349.08 414.13" fill="none" stroke="#008b00" stroke-width="2.30"/>
<path d="M306.16 329.78 L307.14 330.26 L308.09 330.75 L309.03 331.26 L309.95 331.79 L310.85 332.33 L311.73 332.90 L312.59 333.48 L313.43 334.08 L314.26 334.69 L315.07 335.32 L315.85 335.97 L316.62 336.63 L317.37 337.31 L318.11 338.00 L318.82 338.71 L319.52 339.43 L320.19 340.16 L320.85 340.91 L321.49 341.67 L322.11 342.44 L322.71 343.23 L323.30 344.03 L323.86 344.83 L324.41 345.65 L324.94 346.49 L325.45 347.33 L325.94 348.18 L326.42 349.04 L326.87 349.91 L327.31 350.79 L327.73 351.68 L328.13 352.58 L328.51 353.49 L328.88 354.40 L329.22 355.33 L329.55 356.25 L329.86 357.19 L330.15 358.13 L330.42 359.08 L330.68 360.03 L330.91 360.99 L331.13 361.96 L331.33 362.93 L331.51 363.90 L331.68 364.88 L331.82 365.86 L331.95 366.84 L332.06 367.83 L332.15 368.82 L332.22 369.81 L332.28 370.81 L332.32 371.80 L332.34 372.80 L332.34 373.80 L332.32 374.80 L332.29 375.80 L332.24 376.80 L332.17 377.80 L332.09 378.80 L331.99 379.80 L331.87 380.80 L331.74 381.79 L331.59 382.79 L331.43 383.78 L331.25 384.78 L331.06 385.77 L330.85 386.75 L330.63 387.74 L330.39 388.72 L330.14 389.70 L329.87 390.68 L329.59 391.65 L329.30 392.62 L328.99 393.58 L328.67 394.54 L328.34 395.49 L327.99 396.44 L327.63 397.39 L327.26 398.32 L326.87 399.26 L326.48 400.18 L326.07 401.10 L325.65 402.02 L325.22 402.92 L324.78 403.82 L324.33 404.71 L323.86 405.60 L323.39 406.47 L322.90 407.34 L322.41 408.20 L321.91 409.05 L321.39 409.89 L320.87 410.73 L320.33 411.55 L320.17 411.79" fill="none" stroke="#ff0000" stroke-width="2.00" stroke-linecap="butt" stroke-linejoin="round" stroke-dasharray="12.54 6.70 7.50 5.00 7.50 5.00 7.50 5.00 7.50 5.00 7.50 5.00 7.50 5.00 7.50 5.00 7.50 5.00 7.50 5.00 7.50 5.00 7.50 5.00 7.50 5.00"/>
<path d="M307.08 340.04 L308.13 340.41 L309.16 340.81 L310.17 341.23 L311.15 341.67 L312.11 342.13 L313.06 342.62 L313.98 343.13 L314.88 343.65 L315.76 344.20 L316.61 344.77 L317.45 345.36 L318.26 345.96 L319.06 346.59 L319.83 347.23 L320.58 347.89 L321.31 348.56 L322.02 349.26 L322.70 349.97 L323.37 350.70 L324.02 351.44 L324.64 352.19 L325.25 352.96 L325.83 353.75 L326.39 354.55 L326.93 355.36 L327.45 356.19 L327.95 357.02 L328.43 357.87 L328.89 358.73 L329.33 359.61 L329.75 360.49 L330.15 361.38 L330.53 362.28 L330.88 363.19 L331.22 364.11 L331.54 365.04 L331.83 365.98 L332.11 366.92 L332.37 367.88 L332.60 368.83 L332.82 369.80 L333.01 370.77 L333.19 371.74 L333.35 372.72 L333.48 373.71 L333.60 374.69 L333.70 375.69 L333.77 376.68 L333.83 377.68 L333.87 378.68 L333.89 379.68 L333.89 380.68 L333.87 381.69 L333.83 382.69 L333.77 383.70 L333.69 384.70 L333.59 385.70 L333.48 386.70 L333.34 387.70 L333.19 388.70 L333.02 389.70 L332.84 390.69 L332.63 391.68 L332.41 392.67 L332.17 393.65 L331.92 394.63 L331.64 395.60 L331.35 396.57 L331.05 397.53 L330.72 398.49 L330.38 399.44 L330.03 400.38 L329.66 401.31 L329.27 402.24 L328.87 403.16 L328.45 404.07 L328.02 404.97 L327.57 405.86 L327.11 406.75 L326.63 407.62 L326.14 408.48 L325.63 409.33 L325.11 410.17 L324.58 410.99 L324.03 411.81 L323.76 412.19" fill="none" stroke="#0000ff" stroke-width="2.00" stroke-linecap="butt" stroke-linejoin="round" stroke-dasharray="12.71 6.09 7.50 5.00 7.50 5.00 7.50 5.00 7.50 5.00 7.50 5.00 7.50 5.00 7.50 5.00 7.50 5.00 7.50 5.00 7.50 5.00 7.50 5.00 7.50 5.00"/>
</g>
<path d="M53.00 176.62H59.70M409.15 176.62H402.45M53.00 161.25H59.70M409.15 161.25H402.45M53.00 145.88H59.70M409.15 145.88H402.45M53.00 130.50H66.90M409.15 130.50H395.25M53.00 115.12H59.70M409.15 115.12H402.45M53.00 99.75H59.70M409.15 99.75H402.45M53.00 84.38H59.70M409.15 84.38H402.45M53.00 69.00H66.90M409.15 69.00H395.25M53.00 53.62H59.70M409.15 53.62H402.45M53.00 38.25H59.70M409.15 38.25H402.45M53.00 22.88H59.70M409.15 22.88H402.45M53.00 412.16H59.70M409.15 412.16H402.45M53.00 395.23H59.70M409.15 395.23H402.45M53.00 378.29H59.70M409.15 378.29H402.45M53.00 361.36H66.90M409.15 361.36H395.25M53.00 344.42H59.70M409.15 344.42H402.45M53.00 327.49H59.70M409.15 327.49H402.45M53.00 310.55H59.70M409.15 310.55H402.45M53.00 293.61H66.90M409.15 293.61H395.25M53.00 276.68H59.70M409.15 276.68H402.45M53.00 259.74H59.70M409.15 259.74H402.45M53.00 242.81H59.70M409.15 242.81H402.45M53.00 225.87H66.90M409.15 225.87H395.25M53.00 208.94H59.70M409.15 208.94H402.45M97.52 7.50V13.50M97.52 186.00V198.00M97.52 429.10V423.10M142.04 7.50V20.10M142.04 179.40V204.60M142.04 429.10V416.50M186.56 7.50V13.50M186.56 186.00V198.00M186.56 429.10V423.10M231.07 7.50V20.10M231.07 179.40V204.60M231.07 429.10V416.50M275.59 7.50V13.50M275.59 186.00V198.00M275.59 429.10V423.10M320.11 7.50V20.10M320.11 179.40V204.60M320.11 429.10V416.50M364.63 7.50V13.50M364.63 186.00V198.00M364.63 429.10V423.10" fill="none" stroke="#000" stroke-width="1.8"/>
<rect x="53.00" y="7.50" width="356.15" height="421.60" fill="none" stroke="#000" stroke-width="2.0"/>
<path d="M53.00 192.00H409.15" stroke="#000" stroke-width="2.0" fill="none"/>
<path d="M54.4 192.00V429.10" stroke="#00a000" stroke-width="1.1" stroke-dasharray="2.4 7.06" stroke-dashoffset="-7.3" fill="none"/>
<text transform="translate(28.29 14.20) scale(1.100 1)" font-size="18.00">16</text>
<text transform="translate(28.88 232.37) scale(1.010 1)" font-size="19.10">16</text>
<text transform="translate(28.01 75.10) scale(1.100 1)" font-size="18.00">14</text>
<text transform="translate(28.61 300.11) scale(1.010 1)" font-size="19.10">14</text>
<text transform="translate(28.79 136.60) scale(1.100 1)" font-size="18.00">12</text>
<text transform="translate(29.37 367.86) scale(1.010 1)" font-size="19.10">12</text>
<text transform="translate(28.45 198.10) scale(1.100 1)" font-size="18.00">10</text>
<text transform="translate(29.04 435.60) scale(1.010 1)" font-size="19.10">10</text>
<text transform="translate(48.57 447.40) scale(1.000 1)" font-size="19.30">0</text>
<text transform="translate(130.38 447.40) scale(1.000 1)" font-size="19.30">0.5</text>
<text transform="translate(226.38 447.40) scale(1.000 1)" font-size="19.30">1</text>
<text transform="translate(307.98 447.40) scale(1.000 1)" font-size="19.30">1.5</text>
<text transform="translate(404.83 447.40) scale(1.000 1)" font-size="19.30">2</text>
<text transform="translate(17.60 130.92) rotate(-90) scale(0.900 1)" font-size="24.50">R (km)</text>
<text transform="translate(17.60 341.92) rotate(-90) scale(0.900 1)" font-size="24.50">R (km)</text>
<text transform="translate(199.60 475.10) scale(1.125 1)" font-size="21.50">M/M</text>
<text transform="translate(250.20 482.80) scale(1.060 1)" font-size="16.20">Θ</text>
<text transform="translate(290.97 43.10) scale(1.050 1)" font-size="18.60" class="sb">Y</text>
<text transform="translate(304.06 50.60) scale(1.050 1)" font-size="17.50">ν</text>
<text transform="translate(317.44 45.40) scale(1.040 1)" font-size="20.40">=</text>
<text transform="translate(334.43 43.60) scale(1.045 1)" font-size="19.30">0</text>
<text transform="translate(277.77 232.50) scale(0.970 1)" font-size="19.70" class="sb">Y</text>
<text transform="translate(290.38 239.90) scale(1.040 1)" font-size="13.20" class="sb">Le</text>
<text transform="translate(313.21 233.90) scale(0.980 1)" font-size="19.30" class="sb">=</text>
<text transform="translate(329.94 232.60) scale(1.000 1)" font-size="19.30" class="sb">0.4</text>
<path d="M76.80 132.60H100.00" stroke="#ff0000" stroke-width="2.00" fill="none"/>
<text transform="translate(105.33 135.00) scale(1.096 1)" font-size="15.60">Λ</text>
<text transform="translate(117.86 141.30) scale(1.080 1)" font-size="17.00">ν</text>
<text transform="translate(130.75 136.60) scale(1.096 1)" font-size="15.60">=</text>
<text transform="translate(145.35 135.00) scale(1.096 1)" font-size="15.60">0.00</text>
<text transform="translate(181.55 135.00) scale(1.096 1)" font-size="15.60">(BPS)</text>
<path d="M76.80 155.70H100.00" stroke="#0000ff" stroke-width="2.00" fill="none"/>
<text transform="translate(105.33 158.10) scale(1.096 1)" font-size="15.60">Λ</text>
<text transform="translate(117.86 164.40) scale(1.080 1)" font-size="17.00">ν</text>
<text transform="translate(130.75 159.70) scale(1.096 1)" font-size="15.60">=</text>
<text transform="translate(145.35 158.10) scale(1.096 1)" font-size="15.60">0.03</text>
<text transform="translate(181.55 158.10) scale(1.096 1)" font-size="15.60">(BPS)</text>
<path d="M71.20 332.70H94.40" stroke="#ff0000" stroke-width="2.00" fill="none"/>
<text transform="translate(99.73 335.10) scale(1.096 1)" font-size="15.60">Λ</text>
<text transform="translate(112.26 341.40) scale(1.080 1)" font-size="17.00">ν</text>
<text transform="translate(125.15 336.70) scale(1.096 1)" font-size="15.60">=</text>
<text transform="translate(139.75 335.10) scale(1.096 1)" font-size="15.60">0.00</text>
<text transform="translate(175.95 335.10) scale(1.096 1)" font-size="15.60">(BPS)</text>
<path d="M71.20 355.80H94.40" stroke="#0000ff" stroke-width="2.00" fill="none"/>
<text transform="translate(99.73 358.20) scale(1.096 1)" font-size="15.60">Λ</text>
<text transform="translate(112.26 364.50) scale(1.080 1)" font-size="17.00">ν</text>
<text transform="translate(125.15 359.80) scale(1.096 1)" font-size="15.60">=</text>
<text transform="translate(139.75 358.20) scale(1.096 1)" font-size="15.60">0.03</text>
<text transform="translate(175.95 358.20) scale(1.096 1)" font-size="15.60">(BPS)</text>
<path d="M71.40 379.00h2.6M81.90 379.00h2.6M92.10 379.00h2.6" stroke="#008b00" stroke-width="2.6" fill="none"/>
<text transform="translate(99.73 381.30) scale(1.096 1)" font-size="15.60">Λ</text>
<text transform="translate(112.26 387.60) scale(1.080 1)" font-size="17.00">ν</text>
<text transform="translate(125.15 382.90) scale(1.096 1)" font-size="15.60">=</text>
<text transform="translate(139.75 381.30) scale(1.096 1)" font-size="15.60">0.03</text>
<text transform="translate(174.91 381.30) scale(1.155 1)" font-size="15.60">(uniform)</text>
<path d="M71.20 402.00h2.4M78.00 402.00h9.0M91.80 402.00h2.4" stroke="#008b00" stroke-width="2.3" fill="none"/>
<text transform="translate(99.73 404.40) scale(1.096 1)" font-size="15.60">Λ</text>
<text transform="translate(112.26 410.70) scale(1.080 1)" font-size="17.00">ν</text>
<text transform="translate(125.15 406.00) scale(1.096 1)" font-size="15.60">=</text>
<text transform="translate(139.75 404.40) scale(1.096 1)" font-size="15.60">0.03</text>
<text transform="translate(174.91 404.40) scale(1.155 1)" font-size="15.60">(mixed)</text>
</svg>
</body></html>
